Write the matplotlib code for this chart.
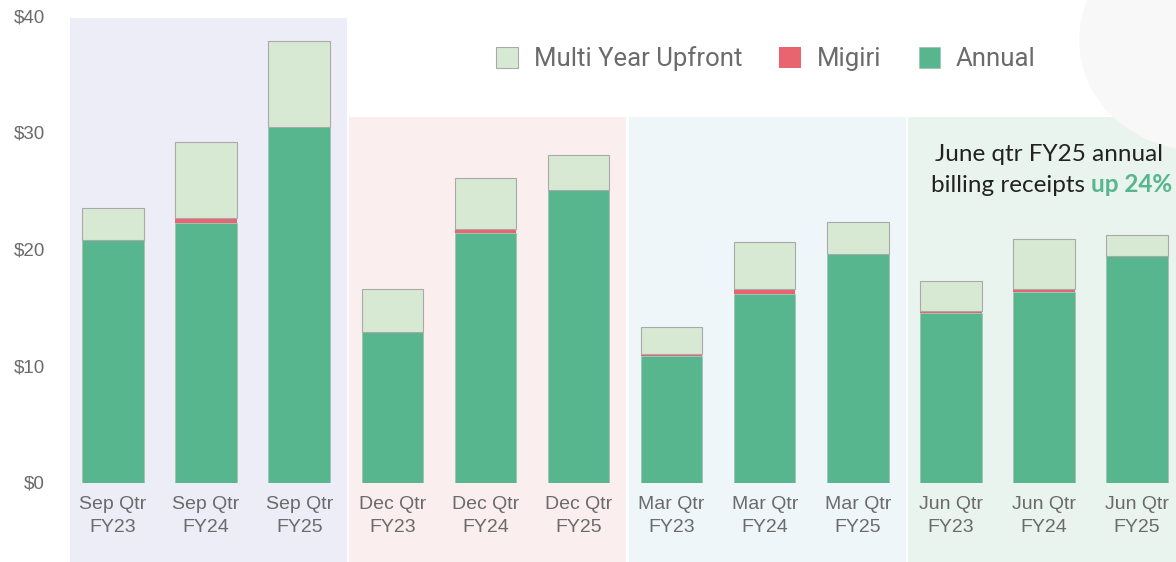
import numpy as np
import matplotlib.pyplot as plt
from matplotlib.patches import Rectangle, Ellipse

quarters = ['Sep Qtr', 'Dec Qtr', 'Mar Qtr', 'Jun Qtr']
years = ['FY23', 'FY24', 'FY25']
labels = [q + '\n' + y for q in quarters for y in years]

annual = [20.8, 22.2, 30.5, 12.9, 21.4, 25.1, 10.85, 16.15, 19.6, 14.5, 16.3, 19.4]
migiri = [0.0, 0.5, 0.0, 0.0, 0.3, 0.0, 0.2, 0.45, 0.0, 0.2, 0.3, 0.0]
upfront = [2.7, 6.5, 7.3, 3.7, 4.4, 3.0, 2.25, 4.0, 2.7, 2.6, 4.3, 1.8]

panel_colors = ['#ecedf6', '#fbeeee', '#eef6fa', '#eaf4ef']
panel_tops = [39.8, 31.3, 31.3, 31.3]

c_annual = '#57b68e'
c_migiri = '#e8646f'
c_upfront = '#d8e9d3'
grey = '#6b6b6b'

W, H = 1176, 562
fig = plt.figure(figsize=(W / 100, H / 100), dpi=100)

# decorative blob in the top right corner
fig.patches.append(Ellipse((1200 / W, 1 - 40 / H), 240 / W, 220 / H,
                           transform=fig.transFigure, color='#f8f8f8', zorder=0))

ax = fig.add_axes([70 / W, 1 - 482.5 / H, (W - 70) / W, (482.5 - 15.8) / H])
ax.patch.set_alpha(0)

x = np.arange(len(labels))
ax.set_xlim(-0.462, 11.418)
ax.set_ylim(0, 40)

# background panels per quarter
for g in range(4):
    left = 3 * g - 0.462
    right = 3 * g + 2.513 if g < 3 else 11.5
    ax.add_patch(Rectangle((left, -7), right - left, panel_tops[g] + 7,
                           color=panel_colors[g], clip_on=False, zorder=0, lw=0))

w = 0.66
ax.bar(x, annual, w, color=c_annual, edgecolor='#9fb8aa', linewidth=0.4,
       label='Annual', zorder=2)
bottom2 = np.array(annual)
ax.bar(x, migiri, w, bottom=bottom2, color=c_migiri, linewidth=0,
       label='Migiri', zorder=2)
bottom3 = bottom2 + np.array(migiri)
ax.bar(x, upfront, w, bottom=bottom3, color=c_upfront, edgecolor='#a9a9a9',
       linewidth=0.8, label='Multi Year Upfront', zorder=2)

for s in ax.spines.values():
    s.set_visible(False)

ax.set_xticks(x)
ax.set_xticklabels(labels, fontsize=14, color=grey, family='Liberation Sans',
                   linespacing=1.45)
ax.set_yticks([0, 10, 20, 30, 40])
ax.set_yticklabels(['$0', '$10', '$20', '$30', '$40'], fontsize=13.5,
                   color=grey, family='Liberation Sans')
ax.tick_params(axis='x', length=0, pad=10)
ax.tick_params(axis='y', length=0, pad=18)

h, l = ax.get_legend_handles_labels()
leg = fig.legend(h[::-1], l[::-1], loc='center', bbox_to_anchor=(766 / W, 1 - 59 / H),
                 ncol=3, frameon=False, handlelength=0.85, handleheight=0.85,
                 handletextpad=0.6, columnspacing=1.45,
                 prop={'family': 'Roboto', 'size': 18.5})
for t in leg.get_texts():
    t.set_color(grey)

fs = 17.5
t2 = fig.text(1172 / W, 1 - 185 / H, 'up 24%', ha='right', va='center',
              fontsize=fs, color=c_annual, fontweight='bold', family='Lato')
ax.annotate('billing receipts ', xy=(0, 0.5), xycoords=t2, ha='right', va='center',
            fontsize=fs, color='#222222', family='Lato')
fig.text(1049 / W, 1 - 155 / H, 'June qtr FY25 annual', ha='center', va='center',
         fontsize=fs, color='#222222', family='Lato')

fig.savefig('out.png', dpi=100)
